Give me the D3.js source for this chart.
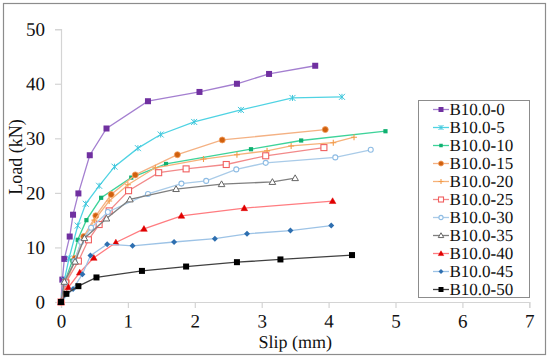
<!DOCTYPE html>
<html>
<head>
<meta charset="utf-8">
<script src="https://cdn.jsdelivr.net/npm/d3@7"></script>
</head>
<body style="margin:0">
<script>
// series names, in legend order
const seriesNames = ['B10.0-0', 'B10.0-5', 'B10.0-10', 'B10.0-15', 'B10.0-20', 'B10.0-25',
  'B10.0-30', 'B10.0-35', 'B10.0-40', 'B10.0-45', 'B10.0-50'];

// [slip (mm), load (kN)]
const b0 = [[0,0],[0.02,4.1],[0.05,7.9],[0.13,12],[0.18,16],[0.26,19.9],[0.43,26.9],[0.68,31.8],[1.3,36.8],[2.07,38.5],[2.63,40],[3.11,41.8],[3.8,43.3]];
const b5 = [[0,0],[0.05,4],[0.12,8],[0.25,14],[0.37,18],[0.57,21.3],[0.8,24.8],[1.15,28.2],[1.49,30.7],[1.99,33],[2.69,35.2],[3.46,37.4],[4.2,37.6]];
const b10 = [[0,0],[0.06,3.8],[0.17,7.6],[0.25,11.4],[0.38,15],[0.6,19.1],[1.05,22.8],[1.57,25.3],[2.84,28],[3.59,29.6],[4.85,31.3]];
const b15 = [[0,0],[0.08,3.8],[0.21,8],[0.34,12],[0.52,15.8],[0.75,19.7],[1.11,23.3],[1.74,27],[2.41,29.7],[3.95,31.6]];
const b20 = [[0,0],[0.08,3.5],[0.2,7.5],[0.33,11.5],[0.5,15],[0.72,18.5],[1.0,21.5],[1.41,24.6],[2.13,26.2],[2.63,27],[3.08,27.7],[3.44,28.6],[4.07,29.2],[4.38,30.2]];
const b25 = [[0,0],[0.07,3.5],[0.26,7.5],[0.41,11.4],[0.57,14.2],[0.72,16.7],[1.01,20.4],[1.46,23.7],[1.87,24.4],[2.47,25.2],[3.06,26.8],[3.93,28.3]];
const b30 = [[0,0],[0.05,3.5],[0.2,7.5],[0.3,11],[0.45,13.6],[0.7,16.5],[1.3,19.8],[1.8,21.7],[2.17,22.2],[2.62,24.3],[3.06,25.5],[4.1,26.5],[4.63,27.9]];
const b35 = [[0,0],[0.05,3.7],[0.21,7.4],[0.35,11.7],[0.68,15.3],[1.03,18.8],[1.72,20.7],[2.4,21.6],[3.16,22],[3.5,22.7]];
const b40 = [[0,0],[0.11,2.7],[0.28,5.4],[0.49,8.1],[0.82,10.9],[1.24,13.4],[1.8,15.8],[2.74,17.2],[4.06,18.5]];
const b45 = [[0,0],[0.18,2.4],[0.32,5.1],[0.44,8.5],[0.69,10.6],[1.07,10.3],[1.69,11],[2.3,11.6],[2.78,12.5],[3.43,13.1],[4.04,14]];
const b50 = [[0,0],[0.08,1.5],[0.26,2.9],[0.53,4.5],[1.21,5.7],[1.87,6.5],[2.63,7.3],[3.28,7.8],[4.35,8.6]];
const seriesValues = [b0, b5, b10, b15, b20, b25, b30, b35, b40, b45, b50];

const xTicks = [0, 1, 2, 3, 4, 5, 6, 7];
const yTicks = [0, 10, 20, 30, 40, 50];

// line colour, marker colour, marker kind
const styles = [
  { line: '#a47fd0', mark: '#7030a0', kind: 'square' },
  { line: '#4fd3e3', mark: '#3fc6dc', kind: 'star' },
  { line: '#3ed39a', mark: '#10b070', kind: 'smallsquare' },
  { line: '#f4b183', mark: '#d0600e', kind: 'circle' },
  { line: '#f6b27a', mark: '#f39c4a', kind: 'plus' },
  { line: '#f28a8a', mark: '#f06060', kind: 'opensquare' },
  { line: '#a9cbe8', mark: '#8ebce4', kind: 'opencircle' },
  { line: '#7f7f7f', mark: '#666666', kind: 'opentriangle' },
  { line: '#ff7c80', mark: '#e00000', kind: 'triangle' },
  { line: '#9dc3e6', mark: '#2e6fb0', kind: 'diamond' },
  { line: '#404040', mark: '#000000', kind: 'square' },
];

const W = 550, H = 359;
const FONT = "'Liberation Serif'";
// a tiny tilt; only the tilted title came out in the serif face
const TILT = 'rotate(0.1)';

const svg = d3.select('body').append('svg')
  .attr('width', W)
  .attr('height', H)
  .attr('font-family', FONT)
  .style('display', 'block');

svg.append('rect')
  .attr('x', 3.5).attr('y', 3.5)
  .attr('width', 542).attr('height', 351)
  .attr('fill', '#fff')
  .attr('stroke', '#8c8c8c')
  .attr('stroke-width', 1.2);

const x = d3.scaleLinear().domain([0, 7]).range([61, 529.3]);
const y = d3.scaleLinear().domain([0, 50]).range([302, 29.2]);

const xAxis = svg.append('g')
  .attr('transform', `translate(0,${y(0)})`)
  .call(d3.axisBottom(x).tickValues(xTicks).tickSize(6).tickPadding(6).tickFormat(d3.format('d')));
const yAxis = svg.append('g')
  .attr('transform', `translate(${x(0)},0)`)
  .call(d3.axisLeft(y).tickValues(yTicks).tickSize(6).tickPadding(10).tickFormat(d3.format('d')));

[xAxis, yAxis].forEach(g => {
  g.attr('font-family', FONT).attr('font-size', 19);
  g.select('.domain').attr('stroke', '#d4d4d4').attr('stroke-width', 1.2);
  g.selectAll('.tick line').attr('stroke', '#d4d4d4').attr('stroke-width', 1.2);
  g.selectAll('.tick text')
    .attr('fill', '#111')
    .attr('font-family', FONT)
    .attr('font-size', 19)
    .attr('transform', TILT);
});

svg.append('text')
  .attr('transform', `translate(${x(3.5)},348) ${TILT}`)
  .attr('text-anchor', 'middle')
  .attr('font-family', FONT)
  .attr('font-size', 18)
  .attr('fill', '#111')
  .text('Slip (mm)');

svg.append('text')
  .attr('transform', 'translate(22,157) rotate(-90)')
  .attr('text-anchor', 'middle')
  .attr('font-family', FONT)
  .attr('font-size', 18)
  .attr('fill', '#111')
  .text('Load (kN)');

function drawMarker(g, st, cx, cy, s) {
  const k = st.kind;
  if (k === 'square' || k === 'smallsquare') {
    const a = k === 'square' ? s : s * 0.7;
    g.append('rect').attr('x', cx - a / 2).attr('y', cy - a / 2)
      .attr('width', a).attr('height', a).attr('fill', st.mark);
  } else if (k === 'opensquare') {
    g.append('rect').attr('x', cx - s / 2).attr('y', cy - s / 2)
      .attr('width', s).attr('height', s).attr('fill', '#fff')
      .attr('stroke', st.mark).attr('stroke-width', 1.1);
  } else if (k === 'circle') {
    g.append('circle').attr('cx', cx).attr('cy', cy).attr('r', s / 2)
      .attr('fill', st.mark).attr('stroke', '#f4a060').attr('stroke-width', 0.8);
  } else if (k === 'opencircle') {
    g.append('circle').attr('cx', cx).attr('cy', cy).attr('r', s / 2.4)
      .attr('fill', '#fff').attr('stroke', st.mark).attr('stroke-width', 1.1);
  } else if (k === 'triangle' || k === 'opentriangle') {
    const r = s * 0.55;
    g.append('path')
      .attr('d', `M${cx},${cy - r}L${cx + r},${cy + r * 0.75}L${cx - r},${cy + r * 0.75}Z`)
      .attr('fill', k === 'triangle' ? st.mark : '#fff')
      .attr('stroke', st.mark).attr('stroke-width', k === 'triangle' ? 0.5 : 1);
  } else if (k === 'diamond') {
    const r = s * 0.5;
    g.append('path')
      .attr('d', `M${cx},${cy - r}L${cx + r},${cy}L${cx},${cy + r}L${cx - r},${cy}Z`)
      .attr('fill', st.mark);
  } else if (k === 'plus') {
    const r = s * 0.5;
    g.append('path')
      .attr('d', `M${cx - r},${cy}H${cx + r}M${cx},${cy - r}V${cy + r}`)
      .attr('stroke', st.mark).attr('stroke-width', 1.1);
  } else if (k === 'star') {
    const r = s * 0.5;
    g.append('path')
      .attr('d', `M${cx - r},${cy - r}L${cx + r},${cy + r}M${cx + r},${cy - r}L${cx - r},${cy + r}M${cx},${cy - r}V${cy + r}`)
      .attr('stroke', st.mark).attr('stroke-width', 1);
  }
}

const line = d3.line().x(d => x(d[0])).y(d => y(d[1]));

seriesValues.forEach((vals, i) => {
  const st = styles[i];
  const g = svg.append('g');
  g.append('path')
    .datum(vals)
    .attr('d', line)
    .attr('fill', 'none')
    .attr('stroke', st.line)
    .attr('stroke-width', 1.3);
  vals.forEach(d => drawMarker(g, st, x(d[0]), y(d[1]), 6));
});

// legend
const leg = svg.append('g');
leg.append('rect')
  .attr('x', 418.5).attr('y', 100.5)
  .attr('width', 111).attr('height', 197)
  .attr('fill', '#fff')
  .attr('stroke', '#8c8c8c')
  .attr('stroke-width', 1);

seriesNames.forEach((name, i) => {
  const st = styles[i];
  const cy = 109.5 + i * 18;
  const row = leg.append('g');
  row.append('line')
    .attr('x1', 433).attr('x2', 449)
    .attr('y1', cy).attr('y2', cy)
    .attr('stroke', st.line).attr('stroke-width', 1.3);
  drawMarker(row, st, 441, cy, 5);
  row.append('text')
    .attr('transform', `translate(449.5,${cy + 5.5}) ${TILT}`)
    .attr('font-family', FONT)
    .attr('font-size', 17)
    .attr('fill', '#111')
    .text(name);
});
</script>
</body>
</html>
